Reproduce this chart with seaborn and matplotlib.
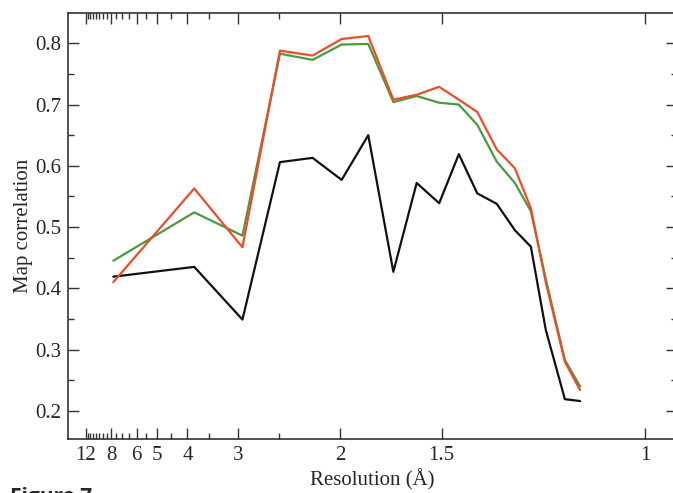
import numpy as np
import pandas as pd
import matplotlib
matplotlib.use("Agg")
import matplotlib.pyplot as plt
import seaborn as sns
from matplotlib.ticker import FixedLocator

# Resolution bins (Å)
resolution = [7.79, 3.83, 2.94, 2.49, 2.197, 1.989, 1.830, 1.702, 1.598, 1.509,
              1.439, 1.379, 1.321, 1.271, 1.230, 1.194, 1.151, 1.119]
black_vals = [0.419, 0.435, 0.349, 0.606, 0.613, 0.577, 0.650, 0.427, 0.572, 0.539,
              0.619, 0.555, 0.538, 0.495, 0.468, 0.332, 0.219, 0.216]
green_vals = [0.445, 0.524, 0.486, 0.783, 0.773, 0.798, 0.799, 0.704, 0.714, 0.703,
              0.700, 0.667, 0.607, 0.572, 0.526, 0.415, 0.283, 0.240]
red_vals = [0.410, 0.563, 0.467, 0.788, 0.780, 0.807, 0.812, 0.708, 0.716, 0.729,
            0.708, 0.688, 0.627, 0.596, 0.531, 0.410, 0.280, 0.234]

major_ticks = [12, 8, 6, 5, 4, 3, 2, 1.5, 1]
major_labels = ["12", "8", "6", "5", "4", "3", "2", "1.5", "1"]
minor_ticks = [11.5, 11, 10.5, 10, 9.5, 9, 8.5, 7.5, 7, 6.5, 5.5, 4.5, 3.5, 2.5]
y_major = [0.2, 0.3, 0.4, 0.5, 0.6, 0.7, 0.8]
y_minor = [0.25, 0.35, 0.45, 0.55, 0.65, 0.75]

n = len(resolution)
df = pd.DataFrame({
    "res": resolution * 3,
    "corr": black_vals + green_vals + red_vals,
    "series": ["black"] * n + ["green"] * n + ["red"] * n,
})

sns.set_style("ticks")
plt.rcParams["font.family"] = ["Liberation Serif", "DejaVu Serif"]

W, H = 673, 493
fig = plt.figure(figsize=(W / 100, H / 100), dpi=100)
left, right, top, bottom = 68.3, 677, 13.3, 439
ax = fig.add_axes([left / W, 1 - bottom / H, (right - left) / W, (bottom - top) / H])

palette = {"black": "#111111", "green": "#4A9A3F", "red": "#EE4B2B"}
sns.lineplot(data=df, x="res", y="corr", hue="series", palette=palette,
             hue_order=["black", "green", "red"], estimator=None, sort=False,
             legend=False, linewidth=1.6, ax=ax)

ax.set_xscale("function", functions=(lambda d: 1.0 / np.asarray(d, dtype=float),
                                     lambda s: 1.0 / np.asarray(s, dtype=float)))
ax.set_xlim(0.950, 18.32)
ax.set_ylim(0.154, 0.849)

ax.xaxis.set_major_locator(FixedLocator(major_ticks))
ax.set_xticklabels(major_labels)
ax.xaxis.set_minor_locator(FixedLocator(minor_ticks))
ax.yaxis.set_major_locator(FixedLocator(y_major))
ax.set_yticklabels([f"{v:.1f}" for v in y_major])
ax.yaxis.set_minor_locator(FixedLocator(y_minor))

ax.tick_params(which="both", direction="in", top=True, right=True,
               labelsize=15, color="#333333", width=1.0)
ax.tick_params(which="major", length=8, pad=5)
ax.tick_params(which="minor", length=4)
for sp in ax.spines.values():
    sp.set_linewidth(1.2)
    sp.set_color("#333333")

ax.set_xlabel("Resolution (Å)", fontsize=15, labelpad=3)
ax.set_ylabel("Map correlation", fontsize=15, labelpad=1.5)

fig.text(10 / W, 1 - 487 / H, "Figure 7", fontsize=15, fontweight="bold",
         family=["Open Sans", "DejaVu Sans"], va="top", ha="left")

fig.savefig("out.png", dpi=100)
